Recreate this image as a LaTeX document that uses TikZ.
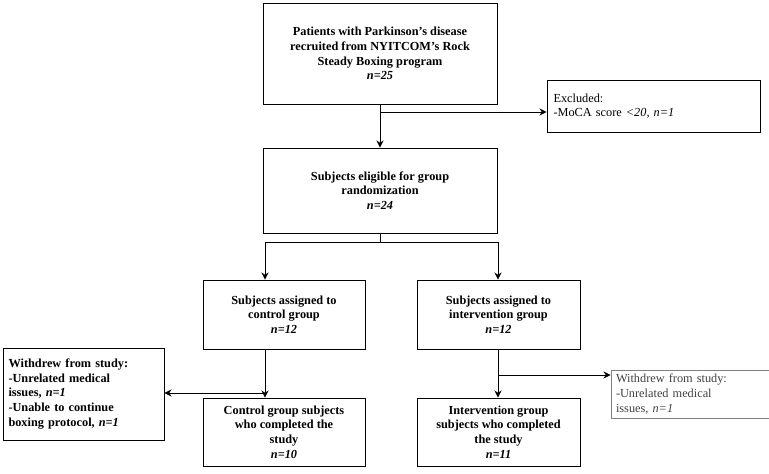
\documentclass[tikz,border=0pt]{standalone}
\usepackage{fontspec}
\setmainfont{Liberation Serif}
\usetikzlibrary{positioning,arrows.meta}
\tikzset{
  box/.style={draw, line width=0.8pt, align=center, inner sep=2pt, font=\fontsize{10.5}{12.5}\selectfont\bfseries},
  note/.style={draw, line width=0.8pt, align=left, inner sep=3pt, font=\fontsize{10.5}{12.5}\selectfont},
  link/.style={line width=0.8pt, -{Stealth[length=6pt,width=6pt]}},
  seg/.style={line width=0.8pt}
}
\begin{document}
\begin{tikzpicture}[x=0.03cm,y=-0.03cm]
\useasboundingbox (0,0) rectangle (769,473);
% boxes
\node[box, minimum width=234*0.03cm, minimum height=101*0.03cm] (patients) at (380,53.5)
  {Patients with Parkinson's disease\\recruited from NYITCOM's Rock\\Steady Boxing program\\ \textit{n=25}};
\node[note, minimum width=213*0.03cm, minimum height=52*0.03cm, text width=200*0.03cm] (excluded) at (653.5,106)
  {Excluded:\\-MoCA score \textit{<20, n=1}};
\node[box, minimum width=234*0.03cm, minimum height=85*0.03cm] (eligible) at (380,190.5)
  {Subjects eligible for group\\randomization\\ \textit{n=24}};
\node[box, minimum width=162*0.03cm, minimum height=69*0.03cm] (control) at (284,314.5)
  {Subjects assigned to\\control group\\ \textit{n=12}};
\node[box, minimum width=163*0.03cm, minimum height=69*0.03cm] (interv) at (498.5,314.5)
  {Subjects assigned to\\intervention group\\ \textit{n=12}};
\node[note, font=\fontsize{10.5}{12.5}\selectfont\bfseries, minimum width=161*0.03cm, minimum height=92*0.03cm, text width=150*0.03cm] (withL) at (83.5,394)
  {Withdrew from study:\\-Unrelated medical\\issues, \textit{n=1}\\-Unable to continue\\boxing protocol, \textit{n=1}};
\node[note, draw=gray, text=black!75, minimum width=158*0.03cm, minimum height=48*0.03cm, text width=148*0.03cm] (withR) at (690,394)
  {Withdrew from study:\\-Unrelated medical\\issues, \textit{n=1}};
\node[box, minimum width=162*0.03cm, minimum height=68*0.03cm] (ctrldone) at (284,432)
  {Control group subjects\\who completed the\\study\\ \textit{n=10}};
\node[box, minimum width=163*0.03cm, minimum height=68*0.03cm] (intdone) at (498.5,432)
  {Intervention group\\subjects who completed\\the study\\ \textit{n=11}};
% connectors
\coordinate (b1) at (380,112);
\coordinate (b2) at (380,242);
\coordinate (b2l) at (265,242);
\coordinate (b2r) at (498,242);
\coordinate (b3) at (265,393);
\coordinate (b4) at (498,375);
\draw[link] (patients) -- (eligible);
\draw[link] (b1) -- (excluded.west |- b1);
\draw[seg] (eligible) -- (b2);
\draw[seg] (b2l) -- (b2r);
\draw[link] (b2l) -- (b2l |- control.north);
\draw[link] (b2r) -- (b2r |- interv.north);
\draw[link] (b2l |- control.south) -- (b2l |- ctrldone.north);
\draw[link] (b2r |- interv.south) -- (b2r |- intdone.north);
\draw[link] (b3) -- (withL.east |- b3);
\draw[link] (b4) -- (withR.west |- b4);
\end{tikzpicture}
\end{document}
